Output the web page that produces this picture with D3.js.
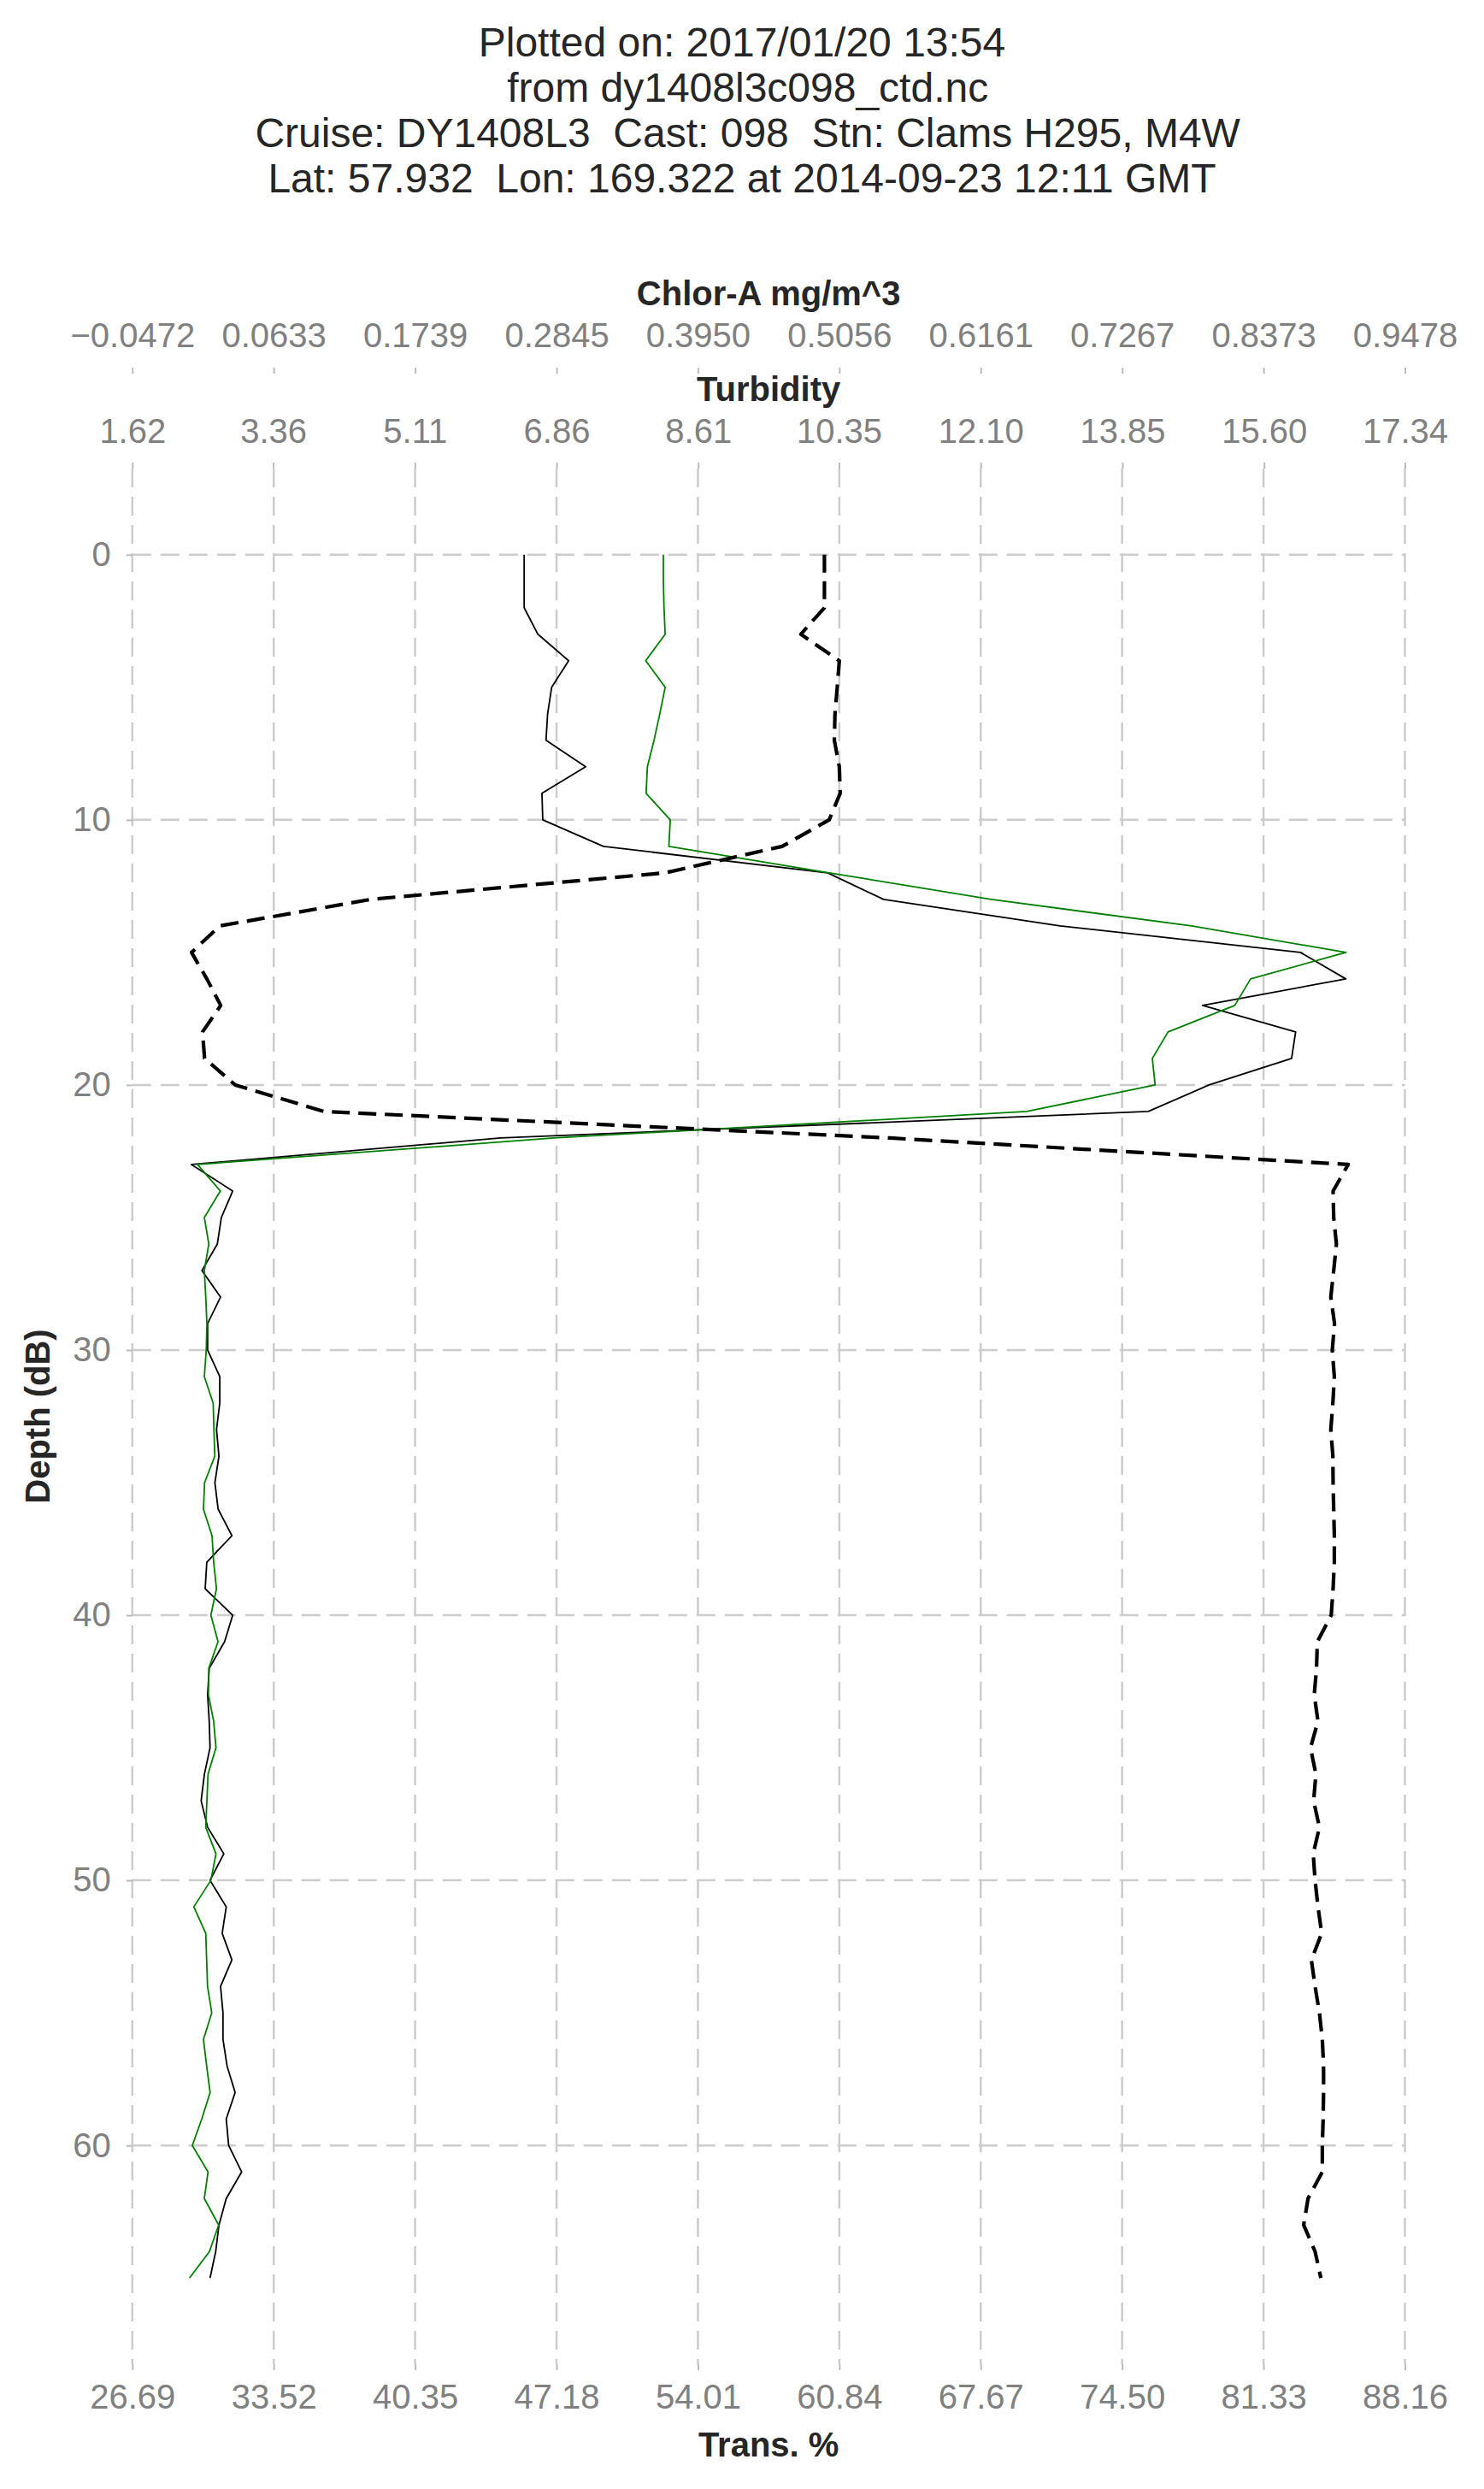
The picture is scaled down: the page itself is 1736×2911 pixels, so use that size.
<!DOCTYPE html>
<html>
<head>
<meta charset="utf-8">
<script src="https://cdn.jsdelivr.net/npm/d3@7"></script>
<style>
    body {
        margin: 0;
        background: #ffffff;
    }

    svg {
        display: block;
        font-family: "Liberation Sans", Arial, sans-serif;
    }

    .grid line {
        stroke: #cccccc;
        stroke-width: 2.5;
        stroke-dasharray: 22, 11;
    }

    .axis .domain {
        display: none;
    }

    .axis line {
        stroke: #bbbbbb;
        stroke-width: 2;
    }

    .axis text {
        fill: #808080;
        font-size: 40px;
        font-family: "Liberation Sans", Arial, sans-serif;
    }

    .axis-label {
        fill: #262626;
        font-size: 40px;
        font-weight: bold;
    }

    .title {
        fill: #262626;
        font-size: 48px;
        white-space: pre;
    }

    .profile {
        fill: none;
        stroke-linejoin: round;
    }
</style>
</head>
<body>
<svg id="svg"></svg>
<script>
// header text, one entry per line
const titleLines = [
    'Plotted on: 2017/01/20 13:54',
    ' from dy1408l3c098_ctd.nc',
    ' Cruise: DY1408L3  Cast: 098  Stn: Clams H295, M4W',
    'Lat: 57.932  Lon: 169.322 at 2014-09-23 12:11 GMT',
];

// pressure levels (dB)
const depth = [
    0, 1, 2, 3, 4, 5, 6, 7, 8, 9,
    10, 11, 12, 13, 14, 15, 16, 17, 18, 19,
    20, 21, 22, 23, 24, 25, 26, 27, 28, 29,
    30, 31, 32, 33, 34, 35, 36, 37, 38, 39,
    40, 41, 42, 43, 44, 45, 46, 47, 48, 49,
    50, 51, 52, 53, 54, 55, 56, 57, 58, 59,
    60, 61, 62, 63, 64, 65,
];

// Chlor-A mg/m^3 (green)
const chlorA = [
    0.3680, 0.3680, 0.3685, 0.3694, 0.3542, 0.3694, 0.3652, 0.3607, 0.3555, 0.3545,
    0.3734, 0.3723, 0.4977, 0.6244, 0.7810, 0.9017, 0.8271, 0.8148, 0.7626, 0.7503,
    0.7525, 0.6521, 0.2825, 0.0037, 0.0216, 0.0091, 0.0126, 0.0091, 0.0102, 0.0111,
    0.0106, 0.0091, 0.0160, 0.0166, 0.0173, 0.0093, 0.0084, 0.0151, 0.0164, 0.0186,
    0.0142, 0.0198, 0.0126, 0.0123, 0.0164, 0.0182, 0.0120, 0.0111, 0.0102, 0.0182,
    0.0142, 0.0009, 0.0102, 0.0109, 0.0116, 0.0149, 0.0084, 0.0109, 0.0136, 0.0071,
    -0.0003, 0.0120, 0.0091, 0.0203, 0.0131, -0.0025,
];

// Turbidity (thin black)
const turbidity = [
    6.46, 6.46, 6.46, 6.63, 7.01, 6.80, 6.75, 6.73, 7.22, 6.68,
    6.69, 7.44, 10.21, 10.90, 13.08, 16.05, 16.61, 14.84, 15.99, 15.94,
    14.92, 14.17, 6.17, 2.35, 2.86, 2.72, 2.67, 2.48, 2.71, 2.55,
    2.55, 2.70, 2.70, 2.66, 2.69, 2.64, 2.68, 2.85, 2.54, 2.52,
    2.86, 2.76, 2.57, 2.55, 2.57, 2.58, 2.51, 2.47, 2.55, 2.75,
    2.58, 2.78, 2.73, 2.85, 2.71, 2.74, 2.74, 2.79, 2.89, 2.78,
    2.81, 2.97, 2.78, 2.69, 2.65, 2.58,
];

// Trans. % (dashed black)
const trans = [
    60.12, 60.12, 60.12, 58.98, 60.84, 60.74, 60.63, 60.60, 60.84, 60.88,
    60.35, 58.08, 52.42, 38.20, 30.92, 29.55, 30.29, 30.96, 30.08, 30.18,
    31.66, 35.95, 63.28, 85.42, 84.69, 84.72, 84.85, 84.72, 84.58, 84.76,
    84.65, 84.75, 84.68, 84.58, 84.68, 84.69, 84.72, 84.75, 84.75, 84.69,
    84.60, 83.93, 83.89, 83.78, 83.96, 83.60, 83.86, 83.75, 84.03, 83.73,
    83.82, 83.96, 84.14, 83.64, 83.82, 84.03, 84.17, 84.23, 84.23, 84.21,
    84.17, 84.17, 83.48, 83.27, 83.82, 84.10,
];

// tick labels, as printed on each axis
const chlorTicks = [-0.0472, 0.0633, 0.1739, 0.2845, 0.3950, 0.5056, 0.6161, 0.7267, 0.8373, 0.9478];
const turbTicks = [1.62, 3.36, 5.11, 6.86, 8.61, 10.35, 12.10, 13.85, 15.60, 17.34];
const transTicks = [26.69, 33.52, 40.35, 47.18, 54.01, 60.84, 67.67, 74.50, 81.33, 88.16];
const depthTicks = [0, 10, 20, 30, 40, 50, 60];
const depthDomain = [-3.25, 68.25];

const fullWidth = 1736;
const fullHeight = 2911;
const margin = {top: 548, left: 154.8, right: 92.5, bottom: 146};
const width = fullWidth - margin.left - margin.right;
const height = fullHeight - margin.top - margin.bottom;

const svg = d3.select('#svg')
    .attr('width', fullWidth)
    .attr('height', fullHeight);

svg.selectAll('text.title')
    .data(titleLines)
  .enter().append('text')
    .attr('class', 'title')
    .attr('x', fullWidth / 2)
    .attr('y', (_, i) => 66 + i * 53)
    .attr('text-anchor', 'middle')
    .text(d => d);

const mainGroup = svg.append('g')
    .attr('transform', 'translate(' + margin.left + ',' + margin.top + ')');

const xChlor = d3.scaleLinear()
    .domain([chlorTicks[0], chlorTicks[chlorTicks.length - 1]])
    .range([0, width]);

const xTurb = d3.scaleLinear()
    .domain([turbTicks[0], turbTicks[turbTicks.length - 1]])
    .range([0, width]);

const xTrans = d3.scaleLinear()
    .domain([transTicks[0], transTicks[transTicks.length - 1]])
    .range([0, width]);

const yScale = d3.scaleLinear()
    .domain(depthDomain)
    .range([0, height]);

// grid
const grid = mainGroup.append('g')
    .attr('class', 'grid');

grid.selectAll('line.gx')
    .data(transTicks)
  .enter().append('line')
    .attr('class', 'gx')
    .attr('x1', d => xTrans(d))
    .attr('x2', d => xTrans(d))
    .attr('y1', 0)
    .attr('y2', height);

grid.selectAll('line.gy')
    .data(depthTicks)
  .enter().append('line')
    .attr('class', 'gy')
    .attr('x1', 0)
    .attr('x2', width)
    .attr('y1', d => yScale(d))
    .attr('y2', d => yScale(d));

// axes
const chlorAxis = d3.axisTop(xChlor)
    .tickValues(chlorTicks)
    .tickFormat(d3.format('.4f'))
    .tickSize(7)
    .tickPadding(24);

mainGroup.append('g')
    .attr('class', 'axis axis-chlor')
    .attr('transform', 'translate(0,' + (437 - margin.top) + ')')
    .call(chlorAxis);

const turbAxis = d3.axisTop(xTurb)
    .tickValues(turbTicks)
    .tickFormat(d3.format('.2f'))
    .tickSize(7)
    .tickPadding(23);

mainGroup.append('g')
    .attr('class', 'axis axis-turb')
    .call(turbAxis);

const transAxis = d3.axisBottom(xTrans)
    .tickValues(transTicks)
    .tickFormat(d3.format('.2f'))
    .tickSize(7)
    .tickPadding(17);

mainGroup.append('g')
    .attr('class', 'axis axis-trans')
    .attr('transform', 'translate(0,' + height + ')')
    .call(transAxis);

const yAxis = d3.axisLeft(yScale)
    .tickValues(depthTicks)
    .tickSize(7)
    .tickPadding(18);

mainGroup.append('g')
    .attr('class', 'axis axis-y')
    .call(yAxis);

// axis titles
svg.append('text')
    .attr('class', 'axis-label')
    .attr('x', margin.left + width / 2)
    .attr('y', 357)
    .attr('text-anchor', 'middle')
    .text('Chlor-A mg/m^3');

svg.append('text')
    .attr('class', 'axis-label')
    .attr('x', margin.left + width / 2)
    .attr('y', 469)
    .attr('text-anchor', 'middle')
    .text('Turbidity');

svg.append('text')
    .attr('class', 'axis-label')
    .attr('x', margin.left + width / 2)
    .attr('y', 2873)
    .attr('text-anchor', 'middle')
    .text('Trans. %');

svg.append('text')
    .attr('class', 'axis-label')
    .attr('transform', 'translate(58,' + (margin.top + height / 2) + ') rotate(-90)')
    .attr('text-anchor', 'middle')
    .text('Depth (dB)');

// profiles
const profiles = mainGroup.append('g');

const lineFor = (values, xScale) => d3.line()
    .x((_, i) => xScale(values[i]))
    .y(d => yScale(d))(depth);

profiles.append('path')
    .attr('class', 'profile')
    .attr('d', lineFor(turbidity, xTurb))
    .attr('stroke', '#000000')
    .attr('stroke-width', 1.8);

profiles.append('path')
    .attr('class', 'profile')
    .attr('d', lineFor(chlorA, xChlor))
    .attr('stroke', '#008000')
    .attr('stroke-width', 1.8);

profiles.append('path')
    .attr('class', 'profile')
    .attr('d', lineFor(trans, xTrans))
    .attr('stroke', '#000000')
    .attr('stroke-width', 4.2)
    .attr('stroke-dasharray', '21,10');
</script>
</body>
</html>
